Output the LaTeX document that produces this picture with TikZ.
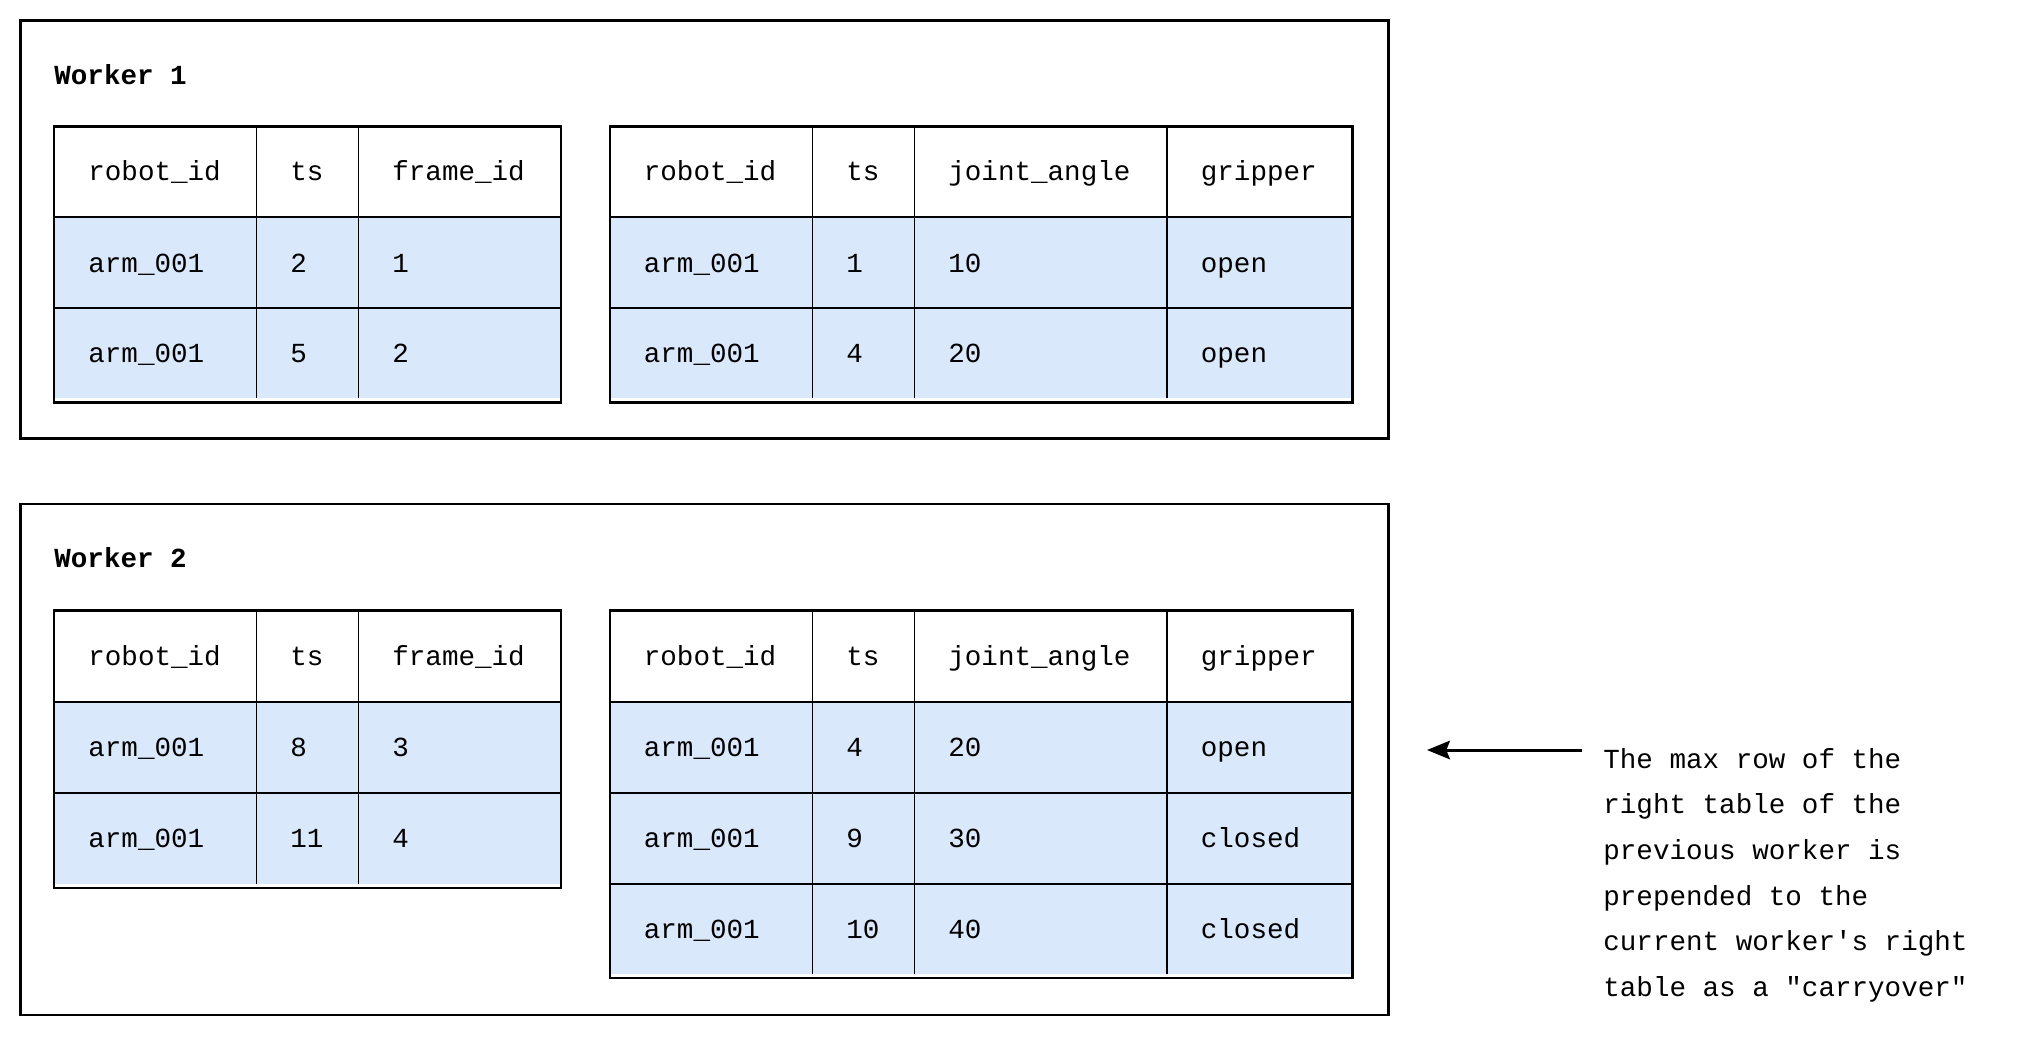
\documentclass[tikz,border=0pt]{standalone}
\usepackage{fontspec}
\setmonofont{Liberation Mono}
\usetikzlibrary{arrows.meta}
\definecolor{rowblue}{HTML}{DAE8FC}

\begin{document}
\begin{tikzpicture}[x=0.02cm, y=-0.02cm,
    every node/.style={font=\ttfamily\fontsize{15.7}{26}\selectfont, inner sep=0pt},
    cell/.style={anchor=west, text height=10.4pt, text depth=0pt},
    workerlabel/.style={cell, font=\ttfamily\bfseries\fontsize{15.7}{26}\selectfont},
    frame/.style={draw, line width=1.5pt},
    rule/.style={draw, line width=1.1pt}]
    \useasboundingbox (0,0) rectangle (2022,1036);

    % worker 1
    \draw[frame] (20.5,20.5) rectangle (1388.5,438.5);
    \node[workerlabel] (worker1) at (54,75) {Worker 1};

    \fill[rowblue] (54,217) rectangle (561,398);
    \draw[rule] (54,217) -- (561,217) (54,308) -- (561,308);
    \draw[rule] (256.5,126.5) -- (256.5,398) (358.5,126.5) -- (358.5,398);
    \draw[frame] (54,126.5) rectangle (561,402.5);
    \foreach \y/\a/\b/\c [count=\r] in {171.5/robot\_id/ts/frame\_id, 263/arm\_001/2/1, 353/arm\_001/5/2} {
        \node[cell] (fa\r) at (88,\y) {\a};
        \node[cell] (fb\r) at (290,\y) {\b};
        \node[cell] (fc\r) at (392,\y) {\c};
    }

    \fill[rowblue] (610,217) rectangle (1352.5,398);
    \draw[rule] (610,217) -- (1352.5,217) (610,308) -- (1352.5,308);
    \draw[rule] (812.5,126.5) -- (812.5,398) (914.5,126.5) -- (914.5,398) (1167,126.5) -- (1167,398);
    \draw[frame] (610,126.5) rectangle (1352.5,402.5);
    \foreach \y/\a/\b/\c/\d [count=\r] in {171.5/robot\_id/ts/joint\_angle/gripper, 263/arm\_001/1/10/open, 353/arm\_001/4/20/open} {
        \node[cell] (ja\r) at (643.5,\y) {\a};
        \node[cell] (jb\r) at (846,\y) {\b};
        \node[cell] (jc\r) at (948,\y) {\c};
        \node[cell] (jd\r) at (1200.5,\y) {\d};
    }

    % worker 2
    \draw[frame] (20.5,504) rectangle (1388.5,1015);
    \node[workerlabel] (worker2) at (54,558.5) {Worker 2};

    \fill[rowblue] (54,702) rectangle (561,884);
    \draw[rule] (54,702) -- (561,702) (54,793) -- (561,793);
    \draw[rule] (256.5,610.5) -- (256.5,884) (358.5,610.5) -- (358.5,884);
    \draw[frame] (54,610.5) rectangle (561,888);
    \foreach \y/\a/\b/\c [count=\r] in {656.5/robot\_id/ts/frame\_id, 747.5/arm\_001/8/3, 838.5/arm\_001/11/4} {
        \node[cell] (ga\r) at (88,\y) {\a};
        \node[cell] (gb\r) at (290,\y) {\b};
        \node[cell] (gc\r) at (392,\y) {\c};
    }

    \fill[rowblue] (610,702) rectangle (1352.5,974);
    \draw[rule] (610,702) -- (1352.5,702) (610,793) -- (1352.5,793) (610,884) -- (1352.5,884);
    \draw[rule] (812.5,610.5) -- (812.5,974) (914.5,610.5) -- (914.5,974) (1167,610.5) -- (1167,974);
    \draw[frame] (610,610.5) rectangle (1352.5,978);
    \foreach \y/\a/\b/\c/\d [count=\r] in {656.5/robot\_id/ts/joint\_angle/gripper, 747.5/arm\_001/4/20/open, 838.5/arm\_001/9/30/closed, 929.5/arm\_001/10/40/closed} {
        \node[cell] (ka\r) at (643.5,\y) {\a};
        \node[cell] (kb\r) at (846,\y) {\b};
        \node[cell] (kc\r) at (948,\y) {\c};
        \node[cell] (kd\r) at (1200.5,\y) {\d};
    }

    % carryover note
    \node[anchor=base west, align=left, text width=8cm] (carrynote) at (1603,768)
        {\spaceskip=0.6em\relax The max row of the\\right table of the\\previous worker is\\prepended to the\\current worker's right\\table as a "carryover"};
    \coordinate (carrytail) at (1582,750);
    \coordinate (carryhead) at (1427,750);
    \draw[line width=1.7pt, -{Stealth[length=13pt, width=10.5pt, inset=2pt]}] (carrytail) -- (carryhead);
\end{tikzpicture}
\end{document}
